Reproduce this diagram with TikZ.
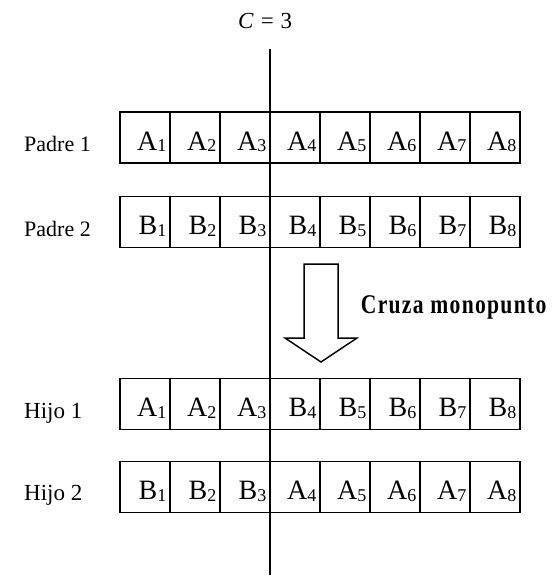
\documentclass[tikz,border=0pt]{standalone}
\usepackage{fontspec}
\setmainfont{Liberation Serif}
\usepackage{graphicx}
\tikzset{
  cellbox/.style={draw, line width=1.8pt, minimum width=50pt, minimum height=51pt, inner sep=0pt, outer sep=0pt},
  celltext/.style={inner sep=0pt, anchor=base east, font=\fontsize{28pt}{30pt}\selectfont},
  rowlabel/.style={inner sep=0pt, anchor=base west, font=\fontsize{22pt}{26pt}\selectfont},
  cutline/.style={line width=1.6pt},
  blockarrow/.style={line width=1.5pt, fill=white, line join=miter},
}
\newcommand\gene[2]{#1\raisebox{-1.8pt}{\fontsize{18pt}{20pt}\selectfont #2}}
\begin{document}
\begin{tikzpicture}[x=1pt,y=-1pt]
\useasboundingbox (0,0) rectangle (557,587);
\foreach \r/\ytop/\genes in {1/112/{A,A,A,A,A,A,A,A},2/196.5/{B,B,B,B,B,B,B,B},3/378.5/{A,A,A,B,B,B,B,B},4/461.5/{B,B,B,A,A,A,A,A}}{
  \foreach \L [count=\i] in \genes {
    \node[cellbox] (r\r c\i) at ({95+50*\i},{\ytop+25.5}) {};
    \node[celltext] (t\r c\i) at ({116.5+50*\i},{\ytop+38}) {\gene{\L}{\i}};
  }
}
\node[rowlabel] (p1) at (24,151) {Padre 1};
\node[rowlabel] (p2) at (24,236) {Padre 2};
\node[rowlabel, font=\fontsize{23pt}{26pt}\selectfont] (h1) at (24,418) {Hijo 1};
\node[rowlabel, font=\fontsize{23pt}{26pt}\selectfont] (h2) at (24,500) {Hijo 2};
\coordinate (cuttop) at (270,49);
\coordinate (cutbot) at (270,575);
\draw[cutline] (cuttop) -- (cutbot);
\node[anchor=base west, inner sep=0pt, font=\fontsize{23pt}{26pt}\selectfont] (cval) at (238,28.3) {\textit{C}\hspace{7pt}=\hspace{7pt}3};
\draw[blockarrow] (304,264) -- (338,264) -- (338,338) -- (357,338) -- (321,362) -- (285,338) -- (304,338) -- cycle;
\node[anchor=base west, inner sep=0pt, font=\bfseries\fontsize{27pt}{30pt}\selectfont] (cruza) at (360.7,313.3) {\scalebox{0.8}[1]{\addfontfeatures{LetterSpace=6}Cruza monopunto}};
\end{tikzpicture}
\end{document}
